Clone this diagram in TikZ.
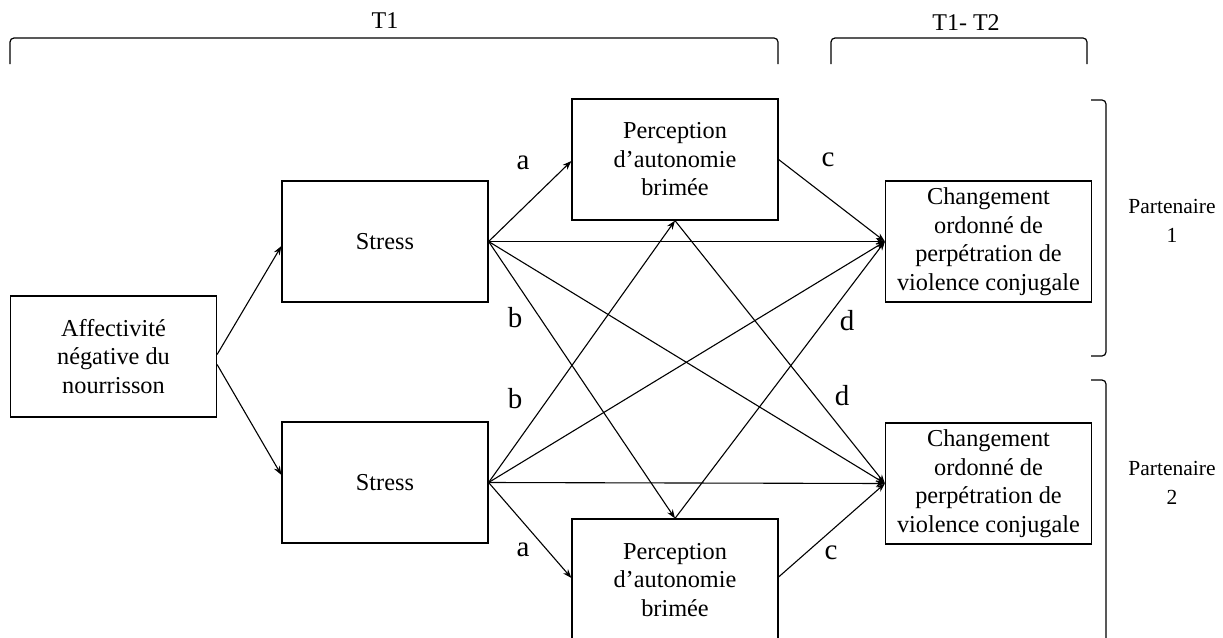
\documentclass[tikz,border=0pt]{standalone}
\usepackage{fontspec}
\setmainfont{Liberation Serif}
\usetikzlibrary{arrows.meta}
\begin{document}
\begin{tikzpicture}[x=1pt,y=-1pt,
  box/.style={draw,line width=1.2pt,minimum width=206pt,minimum height=121pt,inner sep=0pt,align=center,font=\fontsize{24.3}{28.5}\selectfont},
  lab/.style={font=\fontsize{29}{32}\selectfont,inner sep=0pt},
  ttl/.style={font=\fontsize{24}{28}\selectfont,inner sep=0pt},
  prt/.style={font=\fontsize{21.5}{29}\selectfont,inner sep=0pt,align=center},
  arr/.style={line width=1.1pt,-{Stealth[length=9pt,width=6.5pt]}},
  brk/.style={line width=1.2pt,rounded corners=4pt}]
\clip (0,0) rectangle (1223,637);
% boxes
\node[box] (aff) at (113.5,356.5) {Affectivité\\négative du\\nourrisson};
\node[box] (s1) at (385,241.5) {Stress};
\node[box] (s2) at (385,482.5) {Stress};
\node[box] (p1) at (675,159.5) {Perception\\d’autonomie\\brimée};
\node[box,minimum height=122pt] (p2) at (675,580) {Perception\\d’autonomie\\brimée};
\node[box] (c1) at (988.5,241.5) {Changement\\ordonné de\\perpétration de\\violence conjugale};
\node[box] (c2) at (988.5,483.5) {Changement\\ordonné de\\perpétration de\\violence conjugale};
% top brackets
\node[ttl] (t1) at (385,21) {T1};
\node[ttl] (t12) at (966,23) {T1- T2};
\draw[brk] (10,64) -- (10,38) -- (778,38) -- (778,64);
\draw[brk] (831,64) -- (831,38) -- (1087,38) -- (1087,64);
% right brackets
\draw[brk] (1091,100) -- (1106,100) -- (1106,356) -- (1091,356);
\draw[brk] (1091,380) -- (1106,380) -- (1106,660);
\node[prt] (pa1) at (1172,221) {Partenaire\\1};
\node[prt] (pa2) at (1172,483) {Partenaire\\2};
% connectors
\draw[arr] ([yshift=2pt]aff.east) -- ([yshift=-4.5pt]s1.west);
\draw[arr] ([yshift=-8pt]aff.east) -- ([yshift=7.5pt]s2.west);
\draw[arr] (s1.east) -- ([yshift=-1.5pt]p1.west);
\draw[arr] (s1.east) -- (c1.west);
\draw[arr] (s1.east) -- (p2.north);
\draw[arr] (s1.east) -- (c2.west);
\draw[arr] (s2.east) -- (p1.south);
\draw[arr] (s2.east) -- (c1.west);
\draw[arr] (s2.east) -- (c2.west);
\draw[arr] (s2.east) -- ([yshift=2pt]p2.west);
\draw[arr] (p1.east) -- (c1.west);
\draw[arr] (p1.south) -- (c2.west);
\draw[arr] (p2.north) -- (c1.west);
\draw[arr] ([yshift=3pt]p2.east) -- (c2.west);
% labels
\node[lab] (la1) at (523,163) {a};
\node[lab] (lc1) at (828,160) {c};
\node[lab] (lb1) at (515,318) {b};
\node[lab] (ld1) at (847,321) {d};
\node[lab] (lb2) at (515,399) {b};
\node[lab] (ld2) at (842,396) {d};
\node[lab] (la2) at (523,550) {a};
\node[lab] (lc2) at (831,553) {c};
\end{tikzpicture}
\end{document}
